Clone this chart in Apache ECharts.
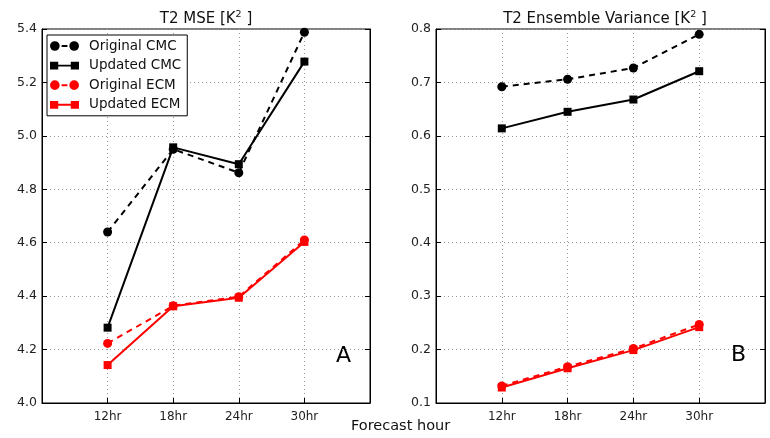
<!DOCTYPE html>
<html><head><meta charset="utf-8">
<script src="https://cdn.jsdelivr.net/npm/echarts@6/dist/echarts.min.js"></script>
<style>html,body{margin:0;padding:0;background:#fff}#c{width:770px;height:438px}</style>
</head><body><div id="c"></div>
<script>
const categories = ['12hr', '18hr', '24hr', '30hr'];
const mseTicksMin = 4.0, mseTicksMax = 5.4, mseStep = 0.2;
const varTicksMin = 0.1, varTicksMax = 0.8, varStep = 0.1;

const mseOriginalCMC = [4.640, 4.950, 4.862, 5.388];
const mseUpdatedCMC  = [4.282, 4.957, 4.894, 5.278];
const mseOriginalECM = [4.223, 4.364, 4.398, 4.610];
const mseUpdatedECM  = [4.142, 4.362, 4.394, 4.603];

const varOriginalCMC = [0.692, 0.706, 0.727, 0.790];
const varUpdatedCMC  = [0.614, 0.645, 0.668, 0.721];
const varOriginalECM = [0.132, 0.168, 0.202, 0.247];
const varUpdatedECM  = [0.129, 0.165, 0.199, 0.242];

const seriesNames = ['Original CMC', 'Updated CMC', 'Original ECM', 'Updated ECM'];

const font = 'DejaVu Sans';
const toPts = arr => categories.map((c, i) => [i + 1, arr[i]]);

// legend glyphs: marker - line - marker (matplotlib style)
const iconOrig = 'path://M0,5a5,5 0 1,0 10,0a5,5 0 1,0 -10,0ZM20,5a5,5 0 1,0 10,0a5,5 0 1,0 -10,0ZM12,4L18,4L18,6L12,6Z';
const iconUpd = 'path://M0,1L8.5,1L8.5,9L0,9ZM21.5,1L30,1L30,9L21.5,9ZM8,4L22,4L22,6L8,6Z';

function mk(name, arr, gi) {
  const red = name.indexOf('ECM') >= 0;
  const orig = name.indexOf('Original') >= 0;
  const col = red ? '#ff0000' : '#000000';
  return {
    name: name, type: 'line', xAxisIndex: gi, yAxisIndex: gi * 2,
    data: toPts(arr),
    symbol: orig ? 'circle' : 'rect',
    symbolSize: orig ? 9 : 8,
    lineStyle: { color: col, width: 2, type: orig ? [6, 5] : 'solid' },
    itemStyle: { color: col },
    z: orig ? 2 : 3,
    animation: false
  };
}

function xAx(gi) {
  return {
    gridIndex: gi, type: 'value', min: 0, max: 5, interval: 1,
    axisLine: { show: true, lineStyle: { color: '#000', width: 1 } },
    axisTick: { show: true, inside: true, length: 5, lineStyle: { color: '#000' } },
    axisLabel: { fontFamily: font, fontSize: 12, color: '#222', margin: 8,
      formatter: v => categories[v - 1] || '' },
    splitLine: { show: true, lineStyle: { color: '#9a9a9a', type: [1, 3], width: 1 } }
  };
}
function yAx(gi, mn, mx, st, right) {
  return {
    gridIndex: gi, type: 'value', min: mn, max: mx, interval: st,
    position: right ? 'right' : 'left',
    axisLine: { show: true, lineStyle: { color: '#000', width: 1 } },
    axisTick: { show: true, inside: true, length: 5, lineStyle: { color: '#000' } },
    axisLabel: { show: !right, fontFamily: font, fontSize: 12.5, color: '#222', margin: 5,
      formatter: v => v.toFixed(1) },
    splitLine: { show: !right, lineStyle: { color: '#9a9a9a', type: [1, 3], width: 1 } }
  };
}

const chart = echarts.init(document.getElementById('c'), null, { renderer: 'canvas' });
const titleRich = {
  a: { fontFamily: font, fontSize: 15, fontWeight: 'normal', color: '#111' },
  s: { fontFamily: font, fontSize: 9.5, fontWeight: 'normal', color: '#111', padding: [0, 0, 8, 0] }
};
chart.setOption({
  backgroundColor: '#fff',
  animation: false,
  title: [
    { text: '{a|T2 MSE [K}{s|2}{a| ]}', left: 201, top: 5, textAlign: 'center',
      textStyle: { fontWeight: 'normal', rich: titleRich } },
    { text: '{a|T2 Ensemble Variance [K}{s|2}{a| ]}', left: 600, top: 5, textAlign: 'center',
      textStyle: { fontWeight: 'normal', rich: titleRich } }
  ],
  grid: [
    { left: 42, right: 400, top: 29, bottom: 35, show: true, borderColor: '#000', borderWidth: 1 },
    { left: 436, right: 5, top: 29, bottom: 35, show: true, borderColor: '#000', borderWidth: 1 }
  ],
  xAxis: [xAx(0), xAx(1)],
  yAxis: [
    yAx(0, mseTicksMin, mseTicksMax, mseStep, false),
    yAx(0, mseTicksMin, mseTicksMax, mseStep, true),
    yAx(1, varTicksMin, varTicksMax, varStep, false),
    yAx(1, varTicksMin, varTicksMax, varStep, true)
  ],
  legend: {
    data: seriesNames.map(n => ({ name: n, icon: n.indexOf('Original') >= 0 ? iconOrig : iconUpd })),
    orient: 'vertical', left: 47, top: 35,
    itemWidth: 29, itemHeight: 9.7, itemGap: 5.6,
    padding: [4, 6, 4, 3],
    borderColor: '#000', borderWidth: 1, backgroundColor: '#fff',
    textStyle: { fontFamily: font, fontSize: 13.5, color: '#111', padding: [0, 0, 0, 5] },
    selectedMode: false
  },
  series: [
    mk(seriesNames[0], mseOriginalCMC, 0),
    mk(seriesNames[1], mseUpdatedCMC, 0),
    mk(seriesNames[2], mseOriginalECM, 0),
    mk(seriesNames[3], mseUpdatedECM, 0),
    mk(seriesNames[0], varOriginalCMC, 1),
    mk(seriesNames[1], varUpdatedCMC, 1),
    mk(seriesNames[2], varOriginalECM, 1),
    mk(seriesNames[3], varUpdatedECM, 1)
  ],
  graphic: [
    { type: 'text', left: 336, top: 345, style: { text: 'A', font: '22px "DejaVu Sans"', fill: '#000' } },
    { type: 'text', left: 731, top: 344, style: { text: 'B', font: '22px "DejaVu Sans"', fill: '#000' } },
    { type: 'text', left: 351, top: 419, style: { text: 'Forecast hour', font: '14.5px "DejaVu Sans"', fill: '#111' } }
  ]
});
</script></body></html>
